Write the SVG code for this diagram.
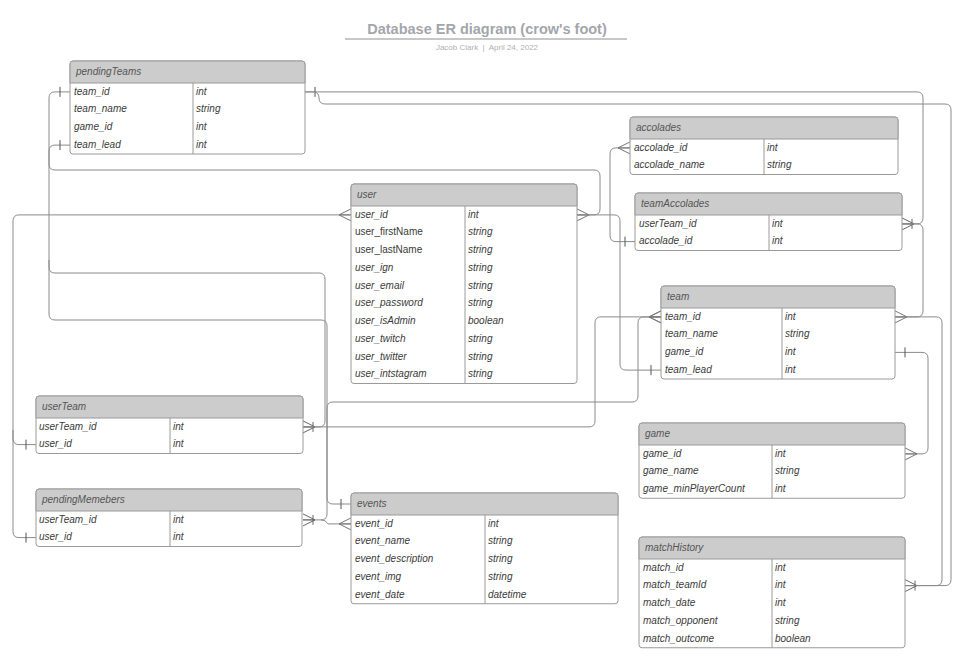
<svg xmlns="http://www.w3.org/2000/svg" width="973" height="667" viewBox="0 0 973 667">
<style>
.bg{fill:#ffffff}
.box{fill:#ffffff;stroke:#9a9a9a;stroke-width:1}
.hdr{fill:#cccccc;stroke:#9a9a9a;stroke-width:1}
.sep{stroke:#9a9a9a;stroke-width:1}
.ht{font-family:"Liberation Sans",Arial,sans-serif;font-size:10px;font-style:italic;fill:#555555}
.f{font-family:"Liberation Sans",Arial,sans-serif;font-size:10px;font-style:italic;fill:#3a3a3a}
.u{font-style:normal}
.c{fill:none;stroke:#8a8a8a;stroke-width:1}
.title{font-family:"Liberation Sans",Arial,sans-serif;font-size:14.5px;font-weight:bold;fill:#a3a6ab}
.sub{font-family:"Liberation Sans",Arial,sans-serif;font-size:8px;fill:#b0b0b0}
</style>
<defs>
<marker id="many" markerUnits="userSpaceOnUse" markerWidth="30" markerHeight="30" refX="0" refY="0" viewBox="-15 -15 30 30" orient="auto-start-reverse" overflow="visible">
<path d="M-12,0 L0,-6 M-12,0 L0,6 M-12,0 L0,0" fill="none" stroke="#777" stroke-width="1"/>
</marker>
<marker id="one" markerUnits="userSpaceOnUse" markerWidth="30" markerHeight="30" refX="0" refY="0" viewBox="-15 -15 30 30" orient="auto-start-reverse" overflow="visible">
<path d="M-10,-5 L-10,5" fill="none" stroke="#555" stroke-width="1"/>
</marker>
<marker id="oneMany" markerUnits="userSpaceOnUse" markerWidth="30" markerHeight="30" refX="0" refY="0" viewBox="-15 -15 30 30" orient="auto-start-reverse" overflow="visible">
<path d="M-12,0 L0,-6 M-12,0 L0,6 M-12,0 L0,0 M-10,-5 L-10,5" fill="none" stroke="#666" stroke-width="1"/>
</marker>
</defs>
<rect class="bg" x="0" y="0" width="973" height="667"/>

<g id="title">
<text class="title" x="487" y="34" text-anchor="middle">Database ER diagram (crow's foot)</text>
<line x1="345" y1="39" x2="627" y2="39" stroke="#b4b4b4" stroke-width="1.5"/>
<text class="sub" x="487" y="50" text-anchor="middle">Jacob Clark&#160; |&#160; April 24, 2022</text>
</g>

<g id="connectors">
<path class="c" d="M70,145.1 H55 Q49,145.1 49,151.1 V164 Q49,170 55,170 H594 Q600,170 600,176 V208.9 Q600,214.9 594,214.9 H577" marker-start="url(#one)" marker-end="url(#many)"/>
<path class="c" d="M577,214.9 H614 Q620,214.9 620,220.9 V364.1 Q620,370.1 626,370.1 H661" marker-end="url(#one)"/>
<path class="c" d="M630,147.9 H616 Q610,147.9 610,153.9 V235.6 Q610,241.6 616,241.6 H635" marker-start="url(#many)" marker-end="url(#one)"/>
<path class="c" d="M305,91.9 H917 Q923,91.9 923,97.9 V217.9 Q923,223.9 917,223.9 H902" marker-start="url(#one)" marker-end="url(#oneMany)"/>
<path class="c" d="M305,91.9 H313 Q319,91.9 319,97.9 Q319,104 325,104 H945 Q951,104 951,110 V579.6 Q951,585.6 945,585.6 H905" marker-end="url(#oneMany)"/>
<path class="c" d="M902,223.9 H917 Q923,223.9 923,229.9 V310.9 Q923,316.9 917,316.9 H895" marker-end="url(#many)"/>
<path class="c" d="M895,316.9 H936 Q942,316.9 942,322.9 V579.6 Q942,585.6 936,585.6 H905"/>
<path class="c" d="M895,352.4 H922 Q928,352.4 928,358.4 V447.9 Q928,453.9 922,453.9 H905" marker-start="url(#one)" marker-end="url(#many)"/>
<path class="c" d="M351,214.9 H19 Q13,214.9 13,220.9 V438.6 Q13,444.6 19,444.6 H36" marker-start="url(#many)" marker-end="url(#one)"/>
<path class="c" d="M13,430 V531.6 Q13,537.6 19,537.6 H36" marker-end="url(#one)"/>
<path class="c" d="M70,91.9 H55 Q49,91.9 49,97.9 V267 Q49,273 55,273 H319 Q325,273 325,279 V420.9 Q325,426.9 319,426.9 H303" marker-start="url(#one)" marker-end="url(#oneMany)"/>
<path class="c" d="M49,260 V314 Q49,320 55,320 H321 Q327,320 327,326 V498 Q327,504 333,504 H351" marker-end="url(#one)"/>
<path class="c" d="M303,426.9 H589 Q595,426.9 595,420.9 V322.9 Q595,316.9 601,316.9 H661" marker-end="url(#many)"/>
<path class="c" d="M303,519.9 H321 Q327,519.9 327,513.9 V408 Q327,402 333,402 H632 Q638,402 638,396 V322.9 Q638,316.9 644,316.9 H661" marker-start="url(#oneMany)" marker-end="url(#many)"/>
<path class="c" d="M321,519.9 Q326,519.9 328,523.9 H351" marker-end="url(#many)"/>
</g>

<g id="pendingTeams">
<rect class="box" x="70" y="61" width="235" height="93" rx="3"/>
<path class="hdr" d="M70,83 V64 Q70,61 73,61 H302 Q305,61 305,64 V83 Z"/>
<line class="sep" x1="193" y1="83" x2="193" y2="154"/>
<text class="ht" x="76" y="75">pendingTeams</text>
<text class="f" x="74" y="94.5">team_id</text><text class="f" x="196" y="94.5">int</text>
<text class="f" x="74" y="112.2">team_name</text><text class="f" x="196" y="112.2">string</text>
<text class="f" x="74" y="130">game_id</text><text class="f" x="196" y="130">int</text>
<text class="f" x="74" y="147.8">team_lead</text><text class="f" x="196" y="147.8">int</text>
</g>

<g id="accolades">
<rect class="box" x="630" y="117" width="268" height="57.5" rx="3"/>
<path class="hdr" d="M630,139 V120 Q630,117 633,117 H895 Q898,117 898,120 V139 Z"/>
<line class="sep" x1="764" y1="139" x2="764" y2="174.5"/>
<text class="ht" x="636" y="131">accolades</text>
<text class="f" x="634" y="150.5">accolade_id</text><text class="f" x="767" y="150.5">int</text>
<text class="f" x="634" y="168.3">accolade_name</text><text class="f" x="767" y="168.3">string</text>
</g>

<g id="teamAccolades">
<rect class="box" x="635" y="193" width="267" height="57.5" rx="3"/>
<path class="hdr" d="M635,215 V196 Q635,193 638,193 H899 Q902,193 902,196 V215 Z"/>
<line class="sep" x1="769" y1="215" x2="769" y2="250.5"/>
<text class="ht" x="641" y="207">teamAccolades</text>
<text class="f" x="639" y="226.5">userTeam_id</text><text class="f" x="772" y="226.5">int</text>
<text class="f" x="639" y="244.3">accolade_id</text><text class="f" x="772" y="244.3">int</text>
</g>

<g id="user">
<rect class="box" x="351" y="184" width="226" height="199.5" rx="3"/>
<path class="hdr" d="M351,206 V187 Q351,184 354,184 H574 Q577,184 577,187 V206 Z"/>
<line class="sep" x1="465" y1="206" x2="465" y2="383.5"/>
<text class="ht" x="357" y="198">user</text>
<text class="f" x="355" y="217.5">user_id</text><text class="f" x="468" y="217.5">int</text>
<text class="f u" x="355" y="235.3">user_firstName</text><text class="f" x="468" y="235.3">string</text>
<text class="f u" x="355" y="253">user_lastName</text><text class="f" x="468" y="253">string</text>
<text class="f" x="355" y="270.8">user_ign</text><text class="f" x="468" y="270.8">string</text>
<text class="f" x="355" y="288.5">user_email</text><text class="f" x="468" y="288.5">string</text>
<text class="f" x="355" y="306.3">user_password</text><text class="f" x="468" y="306.3">string</text>
<text class="f" x="355" y="324">user_isAdmin</text><text class="f" x="468" y="324">boolean</text>
<text class="f" x="355" y="341.8">user_twitch</text><text class="f" x="468" y="341.8">string</text>
<text class="f" x="355" y="359.5">user_twitter</text><text class="f" x="468" y="359.5">string</text>
<text class="f" x="355" y="377.3">user_intstagram</text><text class="f" x="468" y="377.3">string</text>
</g>

<g id="team">
<rect class="box" x="661" y="286" width="234" height="93" rx="3"/>
<path class="hdr" d="M661,308 V289 Q661,286 664,286 H892 Q895,286 895,289 V308 Z"/>
<line class="sep" x1="782" y1="308" x2="782" y2="379"/>
<text class="ht" x="667" y="300">team</text>
<text class="f" x="665" y="319.5">team_id</text><text class="f" x="785" y="319.5">int</text>
<text class="f" x="665" y="337.3">team_name</text><text class="f" x="785" y="337.3">string</text>
<text class="f" x="665" y="355">game_id</text><text class="f" x="785" y="355">int</text>
<text class="f" x="665" y="372.8">team_lead</text><text class="f" x="785" y="372.8">int</text>
</g>

<g id="game">
<rect class="box" x="639" y="423" width="266" height="75.25" rx="3"/>
<path class="hdr" d="M639,445 V426 Q639,423 642,423 H902 Q905,423 905,426 V445 Z"/>
<line class="sep" x1="772" y1="445" x2="772" y2="498.25"/>
<text class="ht" x="645" y="437">game</text>
<text class="f" x="643" y="456.5">game_id</text><text class="f" x="775" y="456.5">int</text>
<text class="f" x="643" y="474.3">game_name</text><text class="f" x="775" y="474.3">string</text>
<text class="f" x="643" y="492">game_minPlayerCount</text><text class="f" x="775" y="492">int</text>
</g>

<g id="matchHistory">
<rect class="box" x="639" y="537" width="266" height="110.75" rx="3"/>
<path class="hdr" d="M639,559 V540 Q639,537 642,537 H902 Q905,537 905,540 V559 Z"/>
<line class="sep" x1="772" y1="559" x2="772" y2="647.75"/>
<text class="ht" x="645" y="551">matchHistory</text>
<text class="f" x="643" y="570.5">match_id</text><text class="f" x="775" y="570.5">int</text>
<text class="f" x="643" y="588.3">match_teamId</text><text class="f" x="775" y="588.3">int</text>
<text class="f" x="643" y="606">match_date</text><text class="f" x="775" y="606">int</text>
<text class="f" x="643" y="623.8">match_opponent</text><text class="f" x="775" y="623.8">string</text>
<text class="f" x="643" y="641.5">match_outcome</text><text class="f" x="775" y="641.5">boolean</text>
</g>

<g id="userTeam">
<rect class="box" x="36" y="396" width="267" height="57.5" rx="3"/>
<path class="hdr" d="M36,418 V399 Q36,396 39,396 H300 Q303,396 303,399 V418 Z"/>
<line class="sep" x1="170" y1="418" x2="170" y2="453.5"/>
<text class="ht" x="42" y="410">userTeam</text>
<text class="f" x="39" y="429.5">userTeam_id</text><text class="f" x="173" y="429.5">int</text>
<text class="f" x="39" y="447.3">user_id</text><text class="f" x="173" y="447.3">int</text>
</g>

<g id="pendingMemebers">
<rect class="box" x="36" y="489" width="266" height="57.5" rx="3"/>
<path class="hdr" d="M36,511 V492 Q36,489 39,489 H299 Q302,489 302,492 V511 Z"/>
<line class="sep" x1="170" y1="511" x2="170" y2="546.5"/>
<text class="ht" x="42" y="503">pendingMemebers</text>
<text class="f" x="39" y="522.5">userTeam_id</text><text class="f" x="173" y="522.5">int</text>
<text class="f" x="39" y="540.3">user_id</text><text class="f" x="173" y="540.3">int</text>
</g>

<g id="events">
<rect class="box" x="351" y="493" width="267" height="110.75" rx="3"/>
<path class="hdr" d="M351,515 V496 Q351,493 354,493 H615 Q618,493 618,496 V515 Z"/>
<line class="sep" x1="485" y1="515" x2="485" y2="603.75"/>
<text class="ht" x="357" y="507">events</text>
<text class="f" x="355" y="526.5">event_id</text><text class="f" x="488" y="526.5">int</text>
<text class="f" x="355" y="544.3">event_name</text><text class="f" x="488" y="544.3">string</text>
<text class="f" x="355" y="562">event_description</text><text class="f" x="488" y="562">string</text>
<text class="f" x="355" y="579.8">event_img</text><text class="f" x="488" y="579.8">string</text>
<text class="f" x="355" y="597.5">event_date</text><text class="f" x="488" y="597.5">datetime</text>
</g>
</svg>
